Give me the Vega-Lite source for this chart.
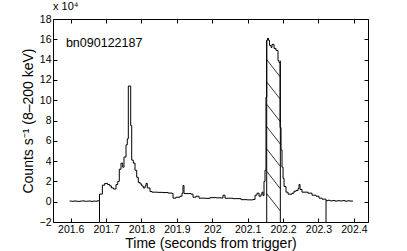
{
  "$schema": "https://vega.github.io/schema/vega-lite/v6.json",
  "width": 315,
  "height": 203,
  "autosize": "none",
  "padding": {"left": 53, "top": 19, "right": 39, "bottom": 29},
  "background": "white",
  "config": {
    "view": {"stroke": null},
    "font": "Liberation Sans",
    "axis": {
      "grid": false,
      "domainColor": "black",
      "domainWidth": 1,
      "tickColor": "black",
      "tickWidth": 1,
      "tickSize": -4,
      "labelPadding": 6,
      "labelFont": "Liberation Sans",
      "labelFontSize": 10.5,
      "labelColor": "black",
      "titleFont": "Liberation Sans",
      "titleFontSize": 14,
      "titleFontWeight": "normal",
      "titleColor": "black"
    }
  },
  "title": {"text": "x 10⁴", "anchor": "start", "frame": "group", "fontSize": 11, "fontWeight": "normal", "font": "Liberation Sans", "color": "black", "offset": 2},
  "datasets": {
    "curve": [
      {"t": 201.597, "c": 600}, {"t": 201.603, "c": 400}, {"t": 201.609, "c": 700}, {"t": 201.615, "c": 500},
      {"t": 201.621, "c": 300}, {"t": 201.627, "c": 600}, {"t": 201.633, "c": 800}, {"t": 201.639, "c": 400},
      {"t": 201.645, "c": 500}, {"t": 201.651, "c": 700}, {"t": 201.657, "c": 300}, {"t": 201.663, "c": 600},
      {"t": 201.669, "c": 500}, {"t": 201.675, "c": 900}, {"t": 201.6814, "c": 7500}, {"t": 201.6895, "c": 16300},
      {"t": 201.696, "c": 18000}, {"t": 201.704, "c": 17000}, {"t": 201.71, "c": 15600}, {"t": 201.715, "c": 13600},
      {"t": 201.721, "c": 12500}, {"t": 201.728, "c": 17000}, {"t": 201.733, "c": 20000}, {"t": 201.7373, "c": 32000},
      {"t": 201.7421, "c": 38000}, {"t": 201.7469, "c": 34000}, {"t": 201.7506, "c": 44000}, {"t": 201.7563, "c": 56000},
      {"t": 201.7599, "c": 62000}, {"t": 201.7628, "c": 114000}, {"t": 201.7695, "c": 75000}, {"t": 201.7724, "c": 41000},
      {"t": 201.7769, "c": 38000}, {"t": 201.7817, "c": 31000}, {"t": 201.7865, "c": 24000}, {"t": 201.791, "c": 19000},
      {"t": 201.796, "c": 17500}, {"t": 201.8006, "c": 15500}, {"t": 201.8051, "c": 13500}, {"t": 201.8099, "c": 15500},
      {"t": 201.8128, "c": 18000}, {"t": 201.8164, "c": 13500}, {"t": 201.8241, "c": 10000}, {"t": 201.8297, "c": 9400},
      {"t": 201.845, "c": 9200}, {"t": 201.8608, "c": 9000}, {"t": 201.875, "c": 8500}, {"t": 201.8862, "c": 8200},
      {"t": 201.8891, "c": 3500}, {"t": 201.8975, "c": 4400}, {"t": 201.9088, "c": 5400}, {"t": 201.9145, "c": 8400},
      {"t": 201.9173, "c": 16000}, {"t": 201.9201, "c": 8000}, {"t": 201.9399, "c": 7400}, {"t": 201.9456, "c": 4400},
      {"t": 201.954, "c": 5400}, {"t": 201.9625, "c": 3500}, {"t": 201.9795, "c": 3300}, {"t": 201.9936, "c": 4000},
      {"t": 202.0106, "c": 3800}, {"t": 202.025, "c": 3600}, {"t": 202.0303, "c": 6400}, {"t": 202.036, "c": 3400},
      {"t": 202.0586, "c": 3000}, {"t": 202.0812, "c": 2000}, {"t": 202.0982, "c": 1800}, {"t": 202.1151, "c": 2200},
      {"t": 202.1208, "c": 6400}, {"t": 202.1264, "c": 8400}, {"t": 202.1321, "c": 5400}, {"t": 202.1377, "c": 7400},
      {"t": 202.1405, "c": 9400}, {"t": 202.1434, "c": 6000}, {"t": 202.1462, "c": 20000}, {"t": 202.149, "c": 31000},
      {"t": 202.1518, "c": 103000}, {"t": 202.1538, "c": 159000}, {"t": 202.1561, "c": 161000}, {"t": 202.1589, "c": 159000},
      {"t": 202.1617, "c": 154000}, {"t": 202.166, "c": 152000}, {"t": 202.1688, "c": 155000}, {"t": 202.1745, "c": 151000},
      {"t": 202.1801, "c": 149000}, {"t": 202.1858, "c": 139000}, {"t": 202.1886, "c": 137000}, {"t": 202.1915, "c": 73000},
      {"t": 202.1943, "c": 51000}, {"t": 202.1971, "c": 34000}, {"t": 202.2, "c": 23000}, {"t": 202.2028, "c": 15000},
      {"t": 202.2084, "c": 9400}, {"t": 202.2141, "c": 7400}, {"t": 202.2254, "c": 8400}, {"t": 202.231, "c": 10300},
      {"t": 202.2367, "c": 11000}, {"t": 202.2423, "c": 13000}, {"t": 202.2451, "c": 17000}, {"t": 202.248, "c": 12000},
      {"t": 202.2536, "c": 9400}, {"t": 202.2706, "c": 8400}, {"t": 202.2819, "c": 6400}, {"t": 202.2932, "c": 5400},
      {"t": 202.3016, "c": 3500}, {"t": 202.3101, "c": 2500}, {"t": 202.3214, "c": 1000}, {"t": 202.327, "c": 1400},
      {"t": 202.3327, "c": 800}, {"t": 202.34, "c": 1200}, {"t": 202.3468, "c": 600}, {"t": 202.354, "c": 1000},
      {"t": 202.361, "c": 700}, {"t": 202.368, "c": 1100}, {"t": 202.3751, "c": 500}, {"t": 202.382, "c": 900},
      {"t": 202.3892, "c": 600}, {"t": 202.3977, "c": 600}
    ],
    "vlines": [
      {"t": 201.6814, "top": 900, "bottom": -20000},
      {"t": 202.1538, "top": 159000, "bottom": -20000},
      {"t": 202.1923, "top": 139000, "bottom": -20000},
      {"t": 202.3214, "top": 1000, "bottom": -20000}
    ],
    "hatch": [
      {"t1": 202.1538, "c1": 140000, "t2": 202.1923, "c2": 122800},
      {"t1": 202.1538, "c1": 118000, "t2": 202.1923, "c2": 100800},
      {"t1": 202.1538, "c1": 96000, "t2": 202.1923, "c2": 78800},
      {"t1": 202.1538, "c1": 74000, "t2": 202.1923, "c2": 56800},
      {"t1": 202.1538, "c1": 52000, "t2": 202.1923, "c2": 34800},
      {"t1": 202.1538, "c1": 30000, "t2": 202.1923, "c2": 12800},
      {"t1": 202.1538, "c1": 8000, "t2": 202.1923, "c2": -9200}
    ],
    "label": [{"t": 201.5865, "c": 152000, "text": "bn090122187"}]
  },
  "layer": [
    {
      "mark": {"type": "rule", "color": "#888888", "strokeDash": [1, 2], "strokeWidth": 1},
      "encoding": {
        "y": {"datum": 0, "type": "quantitative", "scale": {"domain": [-20000, 180000], "nice": false}, "axis": null}
      }
    },
    {
      "data": {"name": "curve"},
      "mark": {"type": "line", "interpolate": "step-after", "color": "black", "strokeWidth": 1},
      "encoding": {
        "x": {"field": "t", "type": "quantitative", "scale": {"domain": [201.55, 202.44], "nice": false, "zero": false},
          "axis": {"orient": "bottom", "values": [201.6, 201.7, 201.8, 201.9, 202, 202.1, 202.2, 202.3, 202.4], "format": "~g", "title": "Time (seconds from trigger)", "titlePadding": 2}},
        "y": {"field": "c", "type": "quantitative", "scale": {"domain": [-20000, 180000], "nice": false},
          "axis": {"orient": "left", "values": [-20000, 0, 20000, 40000, 60000, 80000, 100000, 120000, 140000, 160000, 180000], "labelExpr": "format(datum.value/10000, 'd')", "title": "Counts s⁻¹ (8–200 keV)", "titlePadding": 4}}
      }
    },
    {
      "data": {"name": "vlines"},
      "mark": {"type": "rule", "color": "black", "strokeWidth": 1},
      "encoding": {
        "x": {"field": "t", "type": "quantitative", "scale": {"domain": [201.55, 202.44], "nice": false, "zero": false}, "axis": null},
        "y": {"field": "top", "type": "quantitative", "scale": {"domain": [-20000, 180000], "nice": false}, "axis": null},
        "y2": {"field": "bottom"}
      }
    },
    {
      "data": {"name": "hatch"},
      "mark": {"type": "rule", "color": "black", "strokeWidth": 0.8},
      "encoding": {
        "x": {"field": "t1", "type": "quantitative", "scale": {"domain": [201.55, 202.44], "nice": false, "zero": false}, "axis": null},
        "x2": {"field": "t2"},
        "y": {"field": "c1", "type": "quantitative", "scale": {"domain": [-20000, 180000], "nice": false}, "axis": null},
        "y2": {"field": "c2"}
      }
    },
    {
      "data": {"name": "label"},
      "mark": {"type": "text", "align": "left", "baseline": "alphabetic", "fontSize": 12.5, "font": "Liberation Sans", "color": "black"},
      "encoding": {
        "x": {"field": "t", "type": "quantitative", "scale": {"domain": [201.55, 202.44], "nice": false, "zero": false}, "axis": null},
        "y": {"field": "c", "type": "quantitative", "scale": {"domain": [-20000, 180000], "nice": false}, "axis": null},
        "text": {"field": "text"}
      }
    },
    {
      "data": {"name": "curve"},
      "mark": {"type": "line", "strokeOpacity": 0},
      "encoding": {
        "x": {"field": "t", "type": "quantitative", "scale": {"domain": [201.55, 202.44], "nice": false, "zero": false},
          "axis": {"orient": "top", "values": [201.6, 201.7, 201.8, 201.9, 202, 202.1, 202.2, 202.3, 202.4], "labels": false, "title": null}},
        "y": {"field": "c", "type": "quantitative", "scale": {"domain": [-20000, 180000], "nice": false},
          "axis": {"orient": "right", "values": [-20000, 0, 20000, 40000, 60000, 80000, 100000, 120000, 140000, 160000, 180000], "labels": false, "title": null}}
      }
    }
  ],
  "resolve": {"axis": {"x": "independent", "y": "independent"}}
}
